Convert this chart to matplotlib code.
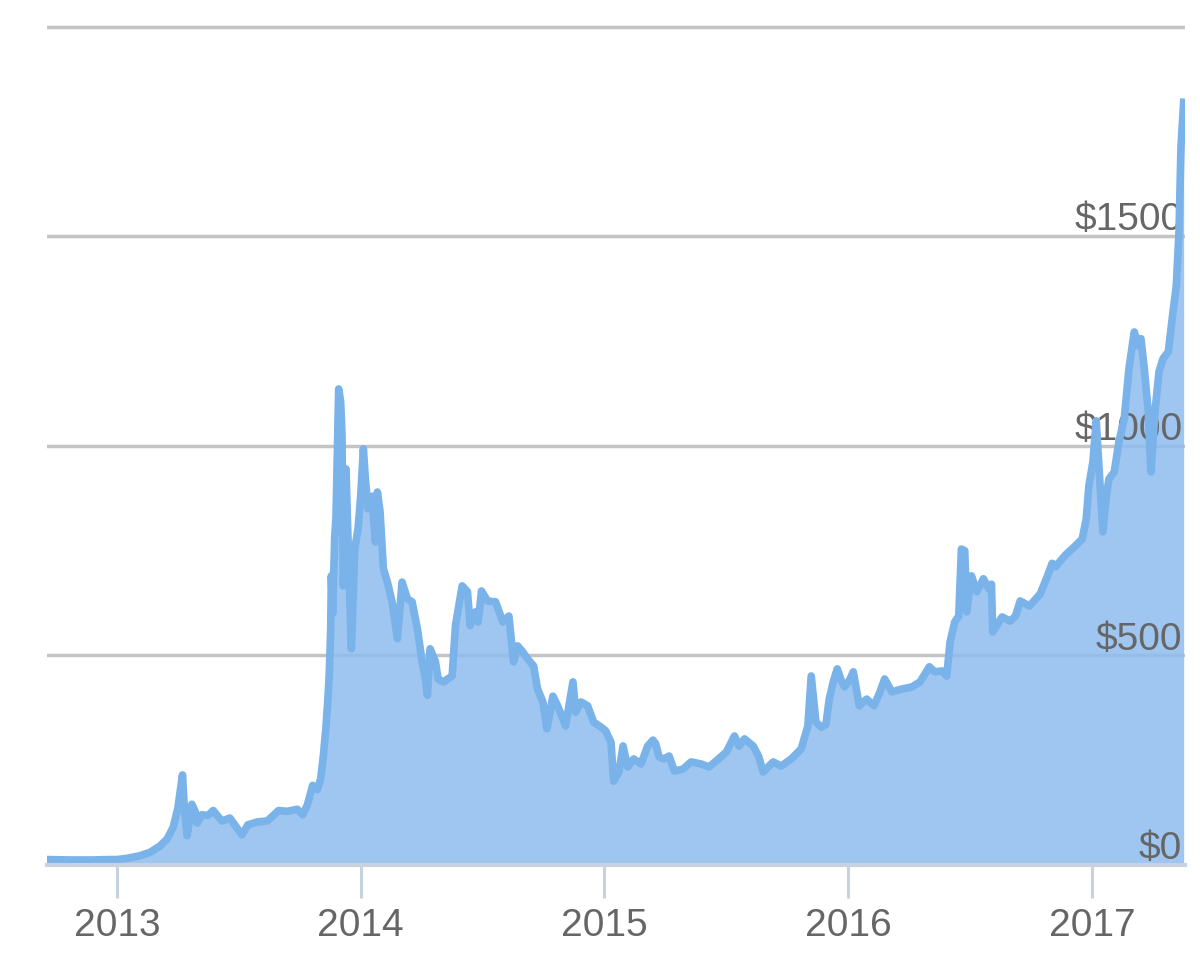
import matplotlib
matplotlib.use("Agg")
import matplotlib.pyplot as plt
import matplotlib.dates as mdates
import numpy as np
import pandas as pd

plt.rcParams['font.family'] = ['Liberation Sans', 'DejaVu Sans']

# bitcoin price (USD)
dates = [
    "2012-09-18", "2012-10-20", "2012-11-25", "2012-12-20", "2013-01-01", "2013-01-16",
    "2013-02-04", "2013-02-19", "2013-03-06", "2013-03-17", "2013-03-26", "2013-04-02",
    "2013-04-09", "2013-04-12", "2013-04-16", "2013-04-23", "2013-04-28", "2013-05-01",
    "2013-05-08", "2013-05-17", "2013-05-25", "2013-06-07", "2013-06-19", "2013-07-07",
    "2013-07-16", "2013-07-31", "2013-08-14", "2013-08-31", "2013-09-13", "2013-09-28",
    "2013-10-06", "2013-10-13", "2013-10-21", "2013-10-28", "2013-11-02", "2013-11-06",
    "2013-11-10", "2013-11-13", "2013-11-15", "2013-11-17", "2013-11-18", "2013-11-20",
    "2013-11-23", "2013-11-25", "2013-11-29", "2013-12-02", "2013-12-04", "2013-12-06",
    "2013-12-10", "2013-12-12", "2013-12-18", "2013-12-23", "2013-12-28", "2014-01-01",
    "2014-01-05", "2014-01-08", "2014-01-12", "2014-01-18", "2014-01-23", "2014-01-26",
    "2014-01-30", "2014-02-04", "2014-02-10", "2014-02-17", "2014-02-25", "2014-03-04",
    "2014-03-12", "2014-03-19", "2014-03-27", "2014-04-03", "2014-04-08", "2014-04-11",
    "2014-04-15", "2014-04-23", "2014-04-27", "2014-05-05", "2014-05-18", "2014-05-23",
    "2014-06-02", "2014-06-10", "2014-06-14", "2014-06-22", "2014-06-26", "2014-07-01",
    "2014-07-10", "2014-07-22", "2014-08-02", "2014-08-11", "2014-08-18", "2014-08-24",
    "2014-09-01", "2014-09-08", "2014-09-17", "2014-09-23", "2014-10-01", "2014-10-07",
    "2014-10-16", "2014-10-23", "2014-11-04", "2014-11-15", "2014-11-19", "2014-11-27",
    "2014-12-07", "2014-12-16", "2014-12-27", "2015-01-03", "2015-01-11", "2015-01-15",
    "2015-01-23", "2015-01-29", "2015-02-05", "2015-02-14", "2015-02-25", "2015-03-07",
    "2015-03-15", "2015-03-19", "2015-03-24", "2015-03-31", "2015-04-08", "2015-04-16",
    "2015-04-29", "2015-05-11", "2015-05-26", "2015-06-07", "2015-06-21", "2015-07-03",
    "2015-07-15", "2015-07-22", "2015-07-30", "2015-08-12", "2015-08-20", "2015-08-27",
    "2015-09-11", "2015-09-23", "2015-10-08", "2015-10-23", "2015-11-02", "2015-11-07",
    "2015-11-14", "2015-11-22", "2015-11-29", "2015-12-04", "2015-12-10", "2015-12-16",
    "2015-12-22", "2015-12-27", "2016-01-03", "2016-01-09", "2016-01-18", "2016-01-29",
    "2016-02-09", "2016-02-18", "2016-02-25", "2016-03-07", "2016-03-22", "2016-04-06",
    "2016-04-18", "2016-05-02", "2016-05-10", "2016-05-21", "2016-05-28", "2016-06-02",
    "2016-06-09", "2016-06-15", "2016-06-19", "2016-06-24", "2016-06-27", "2016-07-04",
    "2016-07-12", "2016-07-22", "2016-07-30", "2016-08-03", "2016-08-05", "2016-08-19",
    "2016-08-31", "2016-09-08", "2016-09-15", "2016-09-29", "2016-10-15", "2016-10-26",
    "2016-11-02", "2016-11-07", "2016-11-22", "2016-12-07", "2016-12-17", "2016-12-23",
    "2016-12-27", "2017-01-02", "2017-01-07", "2017-01-11", "2017-01-17", "2017-01-22",
    "2017-01-26", "2017-02-03", "2017-02-10", "2017-02-18", "2017-02-25", "2017-03-05",
    "2017-03-11", "2017-03-15", "2017-03-20", "2017-03-26", "2017-03-30", "2017-04-05",
    "2017-04-11", "2017-04-17", "2017-04-25", "2017-05-02", "2017-05-07", "2017-05-11",
    "2017-05-14", "2017-05-18",
]
prices = [
    13, 12, 12, 13, 13, 16,
    22, 30, 45, 62, 90, 135,
    215, 130, 70, 145, 128, 100,
    120, 118, 130, 105, 112, 72,
    96, 103, 105, 130, 128, 133,
    120, 143, 190, 180, 205, 260,
    330, 400, 460, 560, 690, 600,
    780, 830, 1136, 1105, 1024, 666,
    945, 830, 516, 754, 802, 880,
    993, 921, 850, 880, 771, 890,
    843, 707, 675, 628, 540, 675,
    635, 628, 563, 485, 444, 405,
    516, 485, 444, 437, 451, 571,
    666, 652, 571, 604, 580, 654,
    630, 628, 580, 594, 485, 523,
    508, 492, 475, 420, 389, 325,
    403, 380, 332, 437, 365, 389,
    380, 341, 329, 320, 293, 200,
    222, 284, 234, 253, 241, 284,
    298, 289, 258, 253, 260, 224,
    229, 246, 241, 234, 253, 270,
    308, 284, 301, 284, 260, 222,
    246, 236, 253, 277, 332, 451,
    341, 329, 335, 396, 437, 468,
    440, 425, 440, 461, 380, 396,
    380, 413, 444, 413, 420, 425,
    437, 473, 461, 463, 451, 532,
    580, 594, 754, 750, 604, 690,
    652, 683, 659, 670, 556, 592,
    582, 594, 630, 618, 647, 690,
    720, 712, 740, 762, 778, 826,
    905, 962, 1060, 952, 795, 880,
    921, 938, 1010, 1065, 1184, 1272,
    1239, 1256, 1184, 1081, 938, 1081,
    1177, 1208, 1225, 1320, 1382, 1511,
    1716, 1820,
]
y_labels = ["$0", "$500", "$1000", "$1500"]
y_levels = [0, 500, 1000, 1500]

x = pd.to_datetime(dates)

fig = plt.figure(figsize=(12, 9.7), dpi=100)
ax = fig.add_axes([47/1200, 104/970, 1138/1200, 844/970])

ax.fill_between(x, prices, 0, color='#8dbcee', alpha=0.85, lw=0, zorder=2)
ax.plot(x, prices, color='#7ab2ea', lw=5.5, solid_joinstyle='round', zorder=4)

ax.set_xlim(pd.Timestamp("2012-09-18"), pd.Timestamp("2017-05-20"))
ax.set_ylim(0, 2014)

ax.set_yticks([0, 500, 1000, 1500, 2000])
ax.yaxis.grid(True, color='#c4c4c4', lw=2.5, zorder=1)
ax.set_axisbelow(True)
ax.tick_params(axis='y', left=False, labelleft=False)

ax.xaxis.set_major_locator(mdates.YearLocator())
ax.xaxis.set_major_formatter(mdates.DateFormatter('%Y'))
ax.tick_params(axis='x', length=24, width=2.2, color='#c8d2de', pad=6,
               labelsize=28, labelcolor='#666666')

for s in ['top', 'left', 'right']:
    ax.spines[s].set_visible(False)
ax.spines['bottom'].set_color('#c8d2de')
ax.spines['bottom'].set_linewidth(3)
ax.spines['bottom'].set_zorder(5)

for lab, v in zip(y_labels, y_levels):
    ax.annotate(lab, xy=(1, v), xycoords=('axes fraction', 'data'),
                xytext=(-2, 5), textcoords='offset points',
                ha='right', va='baseline', fontsize=28, color='#666666', zorder=3)

fig.savefig('out.png', dpi=100)
